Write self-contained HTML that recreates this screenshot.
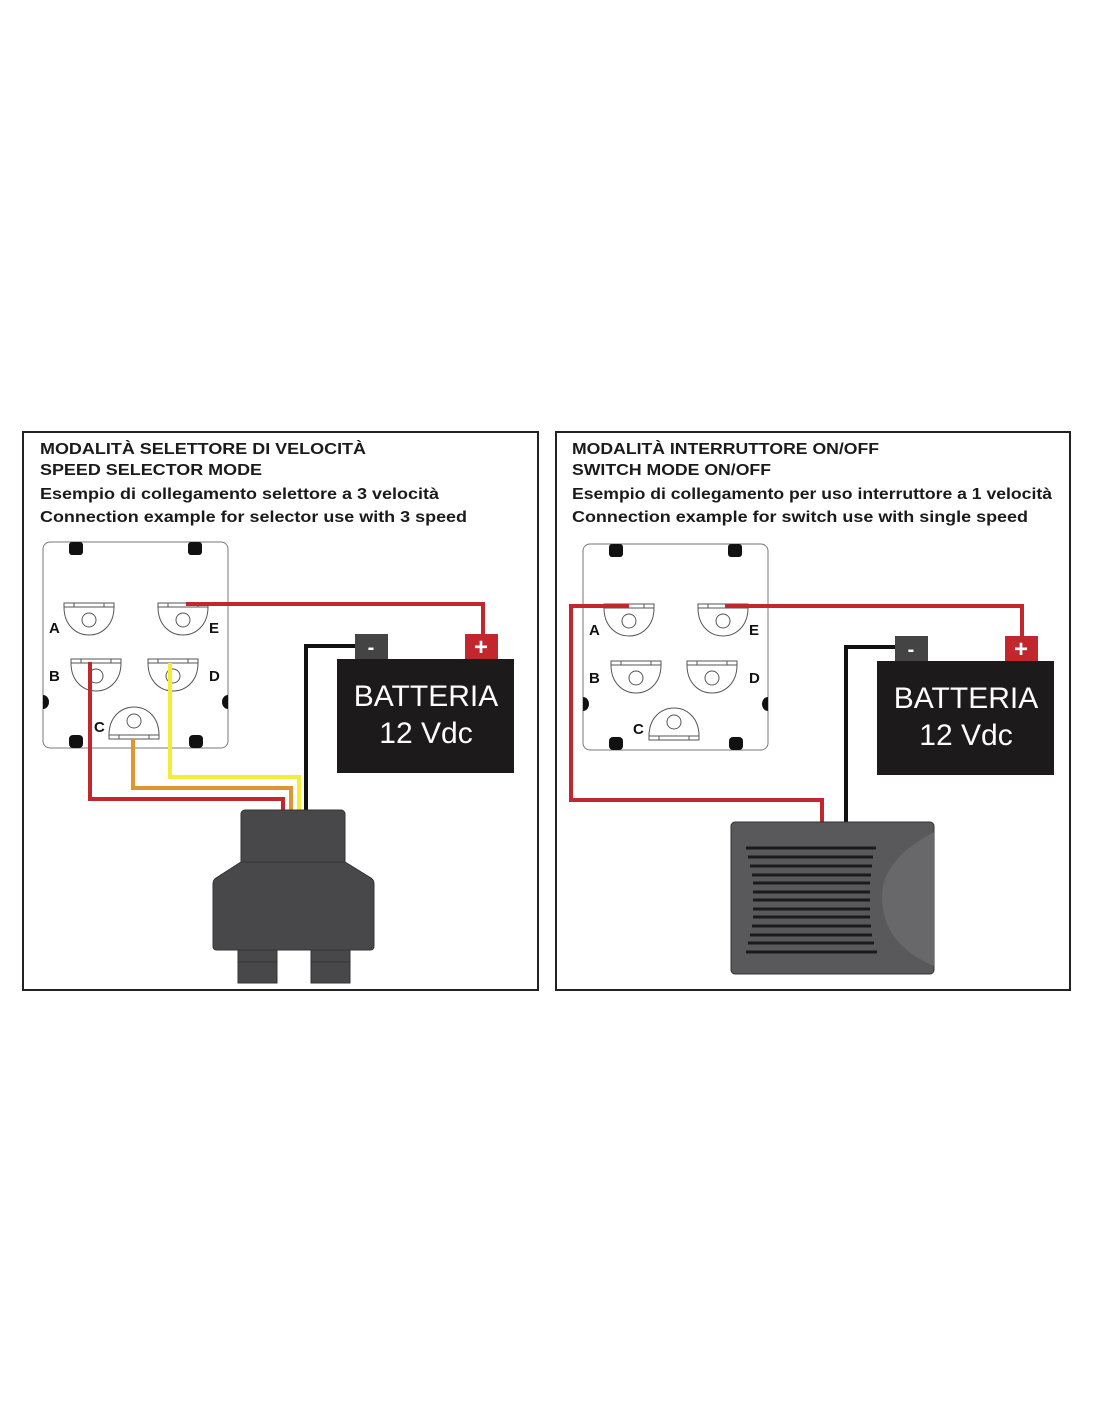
<!DOCTYPE html>
<html><head><meta charset="utf-8"><style>html,body{margin:0;padding:0;background:#fff}svg{display:block}</style></head>
<body>
<svg width="1100" height="1422" viewBox="0 0 1100 1422" xmlns="http://www.w3.org/2000/svg" font-family="Liberation Sans, Arial, sans-serif">
<rect width="1100" height="1422" fill="#fff"/>
<rect x="23" y="432" width="515" height="558" fill="none" stroke="#222" stroke-width="2"/>
<rect x="556" y="432" width="514" height="558" fill="none" stroke="#222" stroke-width="2"/>
<g font-weight="bold" font-size="16" fill="#1a1a1a">
<text x="40" y="454" textLength="326" lengthAdjust="spacingAndGlyphs">MODALITÀ SELETTORE DI VELOCITÀ</text>
<text x="40" y="475" textLength="222" lengthAdjust="spacingAndGlyphs">SPEED SELECTOR MODE</text>
<text x="40" y="499" textLength="399" lengthAdjust="spacingAndGlyphs">Esempio di collegamento selettore a 3 velocità</text>
<text x="40" y="522" textLength="427" lengthAdjust="spacingAndGlyphs">Connection example for selector use with 3 speed</text>
<text x="572" y="454" textLength="307" lengthAdjust="spacingAndGlyphs">MODALITÀ INTERRUTTORE ON/OFF</text>
<text x="572" y="475" textLength="199" lengthAdjust="spacingAndGlyphs">SWITCH MODE ON/OFF</text>
<text x="572" y="499" textLength="480" lengthAdjust="spacingAndGlyphs">Esempio di collegamento per uso interruttore a 1 velocità</text>
<text x="572" y="522" textLength="456" lengthAdjust="spacingAndGlyphs">Connection example for switch use with single speed</text>
</g>
<defs>
<g id="plate">
<rect x="0" y="0" width="185" height="206" rx="7" fill="#fff" stroke="#777" stroke-width="1"/>
<rect x="26" y="0" width="14" height="13" rx="3" fill="#111"/>
<rect x="145" y="0" width="14" height="13" rx="3" fill="#111"/>
<rect x="26" y="193" width="14" height="13" rx="4" fill="#111"/>
<rect x="146" y="193" width="14" height="13" rx="4" fill="#111"/>
<path d="M0 153 A6 7 0 0 1 0 167 Z" fill="#111"/>
<path d="M185 153 A6 7 0 0 0 185 167 Z" fill="#111"/>
</g>
<g id="tdown" fill="#fff" stroke="#555" stroke-width="1">
<path d="M0 0 H50 V4 C50 22 38 32 25 32 C12 32 0 22 0 4 Z"/>
<line x1="0" y1="4" x2="50" y2="4"/><line x1="10" y1="0" x2="10" y2="4"/><line x1="40" y1="0" x2="40" y2="4"/>
<circle cx="25" cy="17" r="7"/>
</g>
<g id="tup" fill="#fff" stroke="#555" stroke-width="1">
<path d="M0 33 H50 V29 C50 11 38 1 25 1 C12 1 0 11 0 29 Z"/>
<line x1="0" y1="29" x2="50" y2="29"/><line x1="10" y1="29" x2="10" y2="33"/><line x1="40" y1="29" x2="40" y2="33"/>
<circle cx="25" cy="15" r="7"/>
</g>
</defs>
<!-- LEFT -->
<use href="#plate" x="43" y="542"/>
<use href="#tdown" x="64" y="603"/>
<use href="#tdown" x="158" y="603"/>
<use href="#tdown" x="71" y="659"/>
<use href="#tdown" x="148" y="659"/>
<use href="#tup" x="109" y="706"/>
<g font-weight="bold" font-size="15" fill="#111">
<text x="49" y="633">A</text><text x="209" y="633">E</text>
<text x="49" y="681">B</text><text x="209" y="681">D</text>
<text x="94" y="732">C</text>
</g>
<g fill="none" stroke-width="4" stroke-linejoin="miter">
<path d="M186 604 H483 V636" stroke="#c1272d"/>
<path d="M170 663 V777 H299 V812" stroke="#f5ec38"/>
<path d="M133 739 V788 H291 V812" stroke="#e0952e"/>
<path d="M90 662 V799 H283 V812" stroke="#c1272d"/>
<path d="M356 646 H306 V812" stroke="#111"/>
</g>
<rect x="355" y="634" width="33" height="26" fill="#444"/>
<rect x="465" y="634" width="33" height="26" fill="#c1272d"/>
<text x="371" y="654" fill="#fff" font-size="20" font-weight="bold" text-anchor="middle">-</text>
<text x="481" y="655" fill="#fff" font-size="24" font-weight="bold" text-anchor="middle">+</text>
<rect x="337" y="659" width="177" height="114" fill="#1c1a1a"/>
<text x="426" y="706" fill="#fff" font-size="30" text-anchor="middle">BATTERIA</text>
<text x="426" y="743" fill="#fff" font-size="30" text-anchor="middle">12 Vdc</text>
<g fill="#48484a" stroke="#333" stroke-width="1">
<rect x="238" y="945" width="39" height="38"/>
<rect x="311" y="945" width="39" height="38"/>
<line x1="238" y1="962" x2="277" y2="962"/><line x1="311" y1="962" x2="350" y2="962"/>
<rect x="241" y="810" width="104" height="60" rx="4"/>
<path d="M241 862 H345 L371 878 Q374 880 374 884 V946 Q374 950 370 950 H217 Q213 950 213 946 V884 Q213 880 216 878 Z"/>
</g>
<!-- RIGHT -->
<use href="#plate" x="583" y="544"/>
<use href="#tdown" x="604" y="604"/>
<use href="#tdown" x="698" y="604"/>
<use href="#tdown" x="611" y="661"/>
<use href="#tdown" x="687" y="661"/>
<use href="#tup" x="649" y="707"/>
<g font-weight="bold" font-size="15" fill="#111">
<text x="589" y="635">A</text><text x="749" y="635">E</text>
<text x="589" y="683">B</text><text x="749" y="683">D</text>
<text x="633" y="734">C</text>
</g>
<g fill="none" stroke-width="4">
<path d="M629 606 H571 V800 H822 V822" stroke="#c1272d"/>
<path d="M725 606 H1022 V637" stroke="#c1272d"/>
<path d="M896 647 H846 V822" stroke="#111"/>
</g>
<rect x="895" y="636" width="33" height="25" fill="#444"/>
<rect x="1005" y="636" width="33" height="25" fill="#c1272d"/>
<text x="911" y="656" fill="#fff" font-size="20" font-weight="bold" text-anchor="middle">-</text>
<text x="1021" y="657" fill="#fff" font-size="24" font-weight="bold" text-anchor="middle">+</text>
<rect x="877" y="661" width="177" height="114" fill="#1c1a1a"/>
<text x="966" y="708" fill="#fff" font-size="30" text-anchor="middle">BATTERIA</text>
<text x="966" y="745" fill="#fff" font-size="30" text-anchor="middle">12 Vdc</text>
<rect x="731" y="822" width="203" height="152" rx="4" fill="#59595b" stroke="#333" stroke-width="1"/>
<path d="M934 832 Q880 860 882 900 Q884 945 934 966 Z" fill="#68686a"/>
<g stroke="#1a1a1a" stroke-width="3">
<line x1="746" y1="848" x2="876" y2="848"/><line x1="748" y1="857" x2="873" y2="857"/>
<line x1="750" y1="866" x2="872" y2="866"/><line x1="752" y1="875" x2="871" y2="875"/>
<line x1="753" y1="883" x2="870" y2="883"/><line x1="753" y1="892" x2="870" y2="892"/>
<line x1="753" y1="900" x2="870" y2="900"/><line x1="753" y1="909" x2="870" y2="909"/>
<line x1="753" y1="917" x2="870" y2="917"/><line x1="752" y1="926" x2="871" y2="926"/>
<line x1="750" y1="935" x2="872" y2="935"/><line x1="748" y1="943" x2="874" y2="943"/>
<line x1="746" y1="952" x2="877" y2="952"/>
</g>
</svg>
</body></html>
